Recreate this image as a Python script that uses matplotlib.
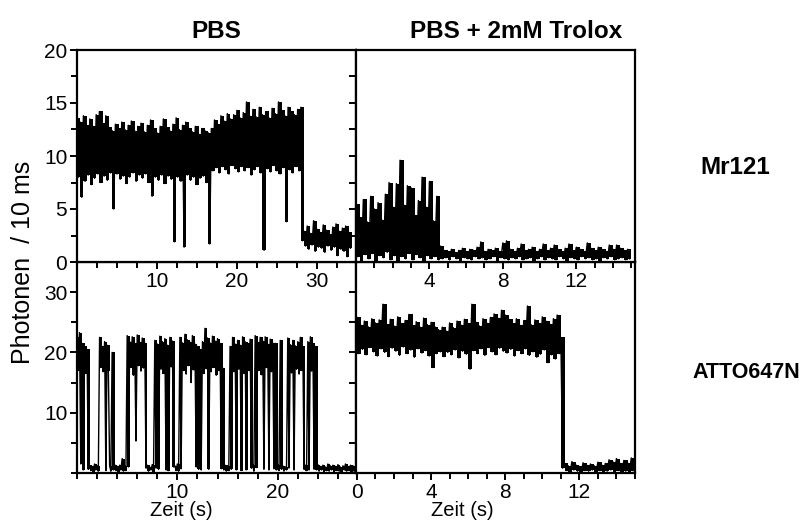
import numpy as np
import matplotlib
matplotlib.use("Agg")
import matplotlib.pyplot as plt
from matplotlib.ticker import MultipleLocator, FixedLocator

plt.rcParams['font.family'] = ['Liberation Sans', 'DejaVu Sans']

# -------------------------
# Traces, read off the picture as upper / lower envelope per time bin
# -------------------------

# Mr121 in PBS, 0.4 s bins
pbs_mr_dt = 0.4
pbs_mr_hi = [13.6, 13.2, 13.8, 12.9, 13.5, 12.8, 13.9, 14.2, 13.1, 13.8, 12.7, 12.4,
             13.0, 12.6, 13.2, 12.5, 12.9, 13.3, 12.4, 12.8, 13.1, 12.3, 12.9, 13.4,
             12.6, 12.2, 12.8, 13.5, 12.7, 12.4, 13.0, 13.6, 12.5, 12.9, 13.2, 12.6,
             12.3, 12.8, 12.1, 12.6, 12.4, 12.2,
             12.6, 13.4, 13.0, 13.8, 13.3, 14.0, 13.5, 13.9, 14.3, 13.6, 14.1, 15.1,
             13.8, 14.4, 13.7, 14.6, 13.9, 14.2, 13.6, 14.5, 14.0, 15.1, 14.3, 13.8,
             14.6, 14.2, 13.9, 14.4, 14.6,
             2.9, 3.4, 2.7, 3.9, 3.1, 2.8, 3.5, 3.0, 2.6, 3.3, 3.6, 2.9, 3.2, 3.4, 2.8]
pbs_mr_lo = [8.0, 6.1, 7.6, 8.2, 7.3, 7.9, 8.3, 7.5, 8.1, 7.7, 8.4, 5.0,
             8.3, 7.8, 8.1, 7.4, 8.0, 8.4, 7.6, 8.2, 7.9, 8.3, 7.5, 6.2,
             8.0, 7.7, 8.2, 7.4, 8.1, 7.8, 1.9, 8.0, 7.6, 1.4, 8.2, 7.7,
             8.0, 7.3, 7.9, 8.1, 7.5, 1.7,
             8.6, 8.9, 8.4, 9.0, 8.7, 8.3, 9.1, 8.8, 8.5, 9.0, 8.6, 8.9,
             8.2, 8.7, 9.0, 8.4, 1.1, 8.8, 8.5, 9.1, 8.6, 8.3, 8.9, 3.8,
             8.7, 8.4, 9.0, 8.6, 2.0,
             1.5, 1.2, 1.6, 1.0, 1.4, 1.3, 0.9, 1.5, 1.1, 1.4, 0.6, 1.2, 1.0, 0.5, 1.3]

# Mr121 in PBS + Trolox, 0.2 s bins
tro_mr_dt = 0.2
tro_mr_hi = [5.5, 4.2, 5.9, 3.8, 6.2, 5.0, 5.6, 4.0, 6.4, 7.5, 5.2, 7.4,
             9.6, 5.4, 7.2, 7.0, 4.4, 5.8, 8.0, 5.2, 7.6, 3.9, 6.2,
             1.5, 1.1, 1.0, 1.2, 0.9, 1.1, 1.3, 1.0, 1.2, 1.1, 1.4, 1.9,
             1.0, 1.2, 1.1, 1.3, 1.0, 1.8, 2.0, 1.2, 1.0, 1.3, 1.7, 1.1,
             1.2, 1.4, 1.0, 1.2, 1.7, 1.1, 1.3, 1.6, 1.2, 1.0, 1.3, 1.7,
             1.1, 1.4, 1.2, 1.0, 1.8, 1.3, 1.1, 1.4, 1.2, 1.0, 1.6, 1.2,
             1.6, 1.3, 1.1, 1.2]
tro_mr_lo = [0.5, 0.0, 0.7, 0.3, 0.8, 0.1, 0.6, 0.4, 0.9, 0.2, 0.6, 0.0,
             0.5, 0.3, 0.8, 0.2, 0.7, 0.4, 0.1, 0.6, 0.3, 0.5, 0.2,
             0.3, 0.4, 0.2, 0.5, 0.3, 0.1, 0.4, 0.3, 0.2, 0.5, 0.3, 0.4,
             0.2, 0.3, 0.5, 0.1, 0.4, 0.3, 0.2, 0.4, 0.3, 0.5, 0.2, 0.3,
             0.4, 0.1, 0.3, 0.5, 0.2, 0.4, 0.3, 0.2, 0.5, 0.3, 0.1, 0.4,
             0.3, 0.2, 0.5, 0.3, 0.4, 0.2, 0.3, 0.1, 0.4, 0.3, 0.5, 0.2,
             0.3, 0.4, 0.2, 0.3]

# ATTO647N in PBS, 0.25 s bins (blinking)
pbs_atto_dt = 0.25
pbs_atto_hi = [22.5, 23.3, 21.5, 21.0, 20.5,
               1.3, 1.1, 1.5, 1.2,
               22.5, 21.0, 21.8, 21.2,
               1.2, 20.0,
               1.4, 1.1, 1.3, 2.4, 1.2,
               22.8, 21.8, 22.6, 21.5, 22.9, 21.7, 22.4, 21.6,
               1.3, 1.0, 1.4,
               22.0, 21.4, 22.7, 21.8, 22.3, 21.2, 22.5, 21.9,
               1.2, 1.5,
               22.5, 21.6, 23.0, 22.1, 21.7, 22.8, 21.4,
               21.0, 20.5,
               21.8, 24.0, 22.4, 21.6, 22.7, 21.9, 22.3, 21.5,
               17.5,
               1.3, 1.1,
               21.0, 22.5, 21.4, 22.0, 21.2, 22.6, 21.8, 21.5, 22.2,
               1.4,
               22.8, 21.7, 22.5, 21.9, 22.6, 21.4, 22.2, 21.6,
               21.5, 1.4, 22.0,
               1.2, 1.0,
               22.4, 21.3, 22.0, 21.1, 21.8, 22.5, 21.0,
               1.3,
               21.8, 22.6, 21.5,
               21.0,
               1.4, 1.1, 1.3, 1.0, 1.5, 1.2, 1.3, 1.1, 1.4, 1.0, 1.2, 1.5, 1.1, 1.3, 1.2]
pbs_atto_lo = [17.0, 1.5, 0.5, 16.5, 0.6,
               0.4, 0.2, 0.5, 0.3,
               17.5, 16.8, 0.4, 17.0,
               0.3, 0.5,
               0.4, 0.2, 0.5, 0.3, 0.4,
               1.0, 17.5, 16.2, 5.3, 17.8, 16.9, 17.4, 0.8,
               0.3, 0.5, 0.2,
               0.8, 0.6, 17.2, 16.5, 0.5, 0.4, 17.6, 1.0,
               0.4, 0.3,
               0.7, 17.0, 16.4, 17.8, 15.0, 17.1, 1.0,
               0.6, 0.5,
               16.5, 17.3, 0.6, 16.8, 17.5, 16.2, 17.0, 0.7,
               0.5,
               0.3, 0.4,
               0.6, 16.8, 0.5, 17.2, 0.4, 16.5, 0.5, 17.0, 0.8,
               0.3,
               0.9, 17.0, 16.3, 0.6, 17.5, 0.5, 16.8, 0.7,
               0.5, 0.4, 0.6,
               0.3, 0.5,
               0.8, 16.6, 0.5, 17.2, 16.4, 17.0, 0.6,
               0.4,
               0.5, 16.9, 0.6,
               0.5,
               0.3, 0.5, 0.2, 0.4, 0.3, 0.5, 0.1, 0.4, 0.3, 0.2, 0.5, 0.3, 0.4, 0.2, 0.3]

# ATTO647N in PBS + Trolox, 0.2 s bins
tro_atto_dt = 0.2
tro_atto_hi = [25.8, 24.6, 25.2, 24.3, 25.6, 24.9, 25.4, 28.0, 24.7, 25.5, 24.4,
               25.9, 24.8, 25.3, 26.3, 24.5, 25.1, 24.2, 25.7, 24.6, 25.0, 24.3,
               23.8, 24.2, 23.6, 24.9, 24.1, 25.2, 24.6, 25.5, 24.8, 28.0, 25.1,
               24.4, 25.6, 24.9, 25.8, 26.4, 25.7, 27.0, 26.2, 25.5, 24.8, 25.6,
               24.5, 25.3, 27.7, 24.6, 25.4, 24.8, 25.9, 25.2, 24.7, 25.6, 26.2,
               22.5,
               1.6, 1.2, 1.9, 1.4, 1.1, 1.7, 1.3, 1.5, 1.2, 1.8, 1.4, 1.6, 2.2,
               1.9, 2.4, 1.6, 2.1, 1.7, 2.5]
tro_atto_lo = [19.8, 20.5, 19.6, 20.8, 20.1, 19.4, 20.6, 20.0, 19.3, 20.7, 20.2,
               19.5, 20.9, 19.8, 20.4, 19.2, 20.6, 19.9, 20.3, 19.4, 17.5, 19.8,
               20.1, 19.3, 20.0, 19.6, 20.4, 19.1, 20.2, 19.7, 17.2, 20.3, 19.8,
               20.6, 19.5, 20.8, 20.1, 19.6, 20.7, 20.2, 19.9, 20.5, 19.4, 20.3,
               19.8, 20.6, 19.5, 20.1, 19.2, 19.7, 20.4, 18.3, 19.6, 18.9, 19.8,
               0.8,
               0.4, 0.2, 0.5, 0.3, 0.1, 0.4, 0.3, 0.5, 0.2, 0.4, 0.1, 0.3, 0.5,
               0.2, 0.4, 0.1, 0.3, 0.2, 0.4]

titles = ["PBS", "PBS + 2mM Trolox"]
dyes = ["Mr121", "ATTO647N"]


def draw_trace(ax, dt, hi, lo):
    hi = np.asarray(hi)
    lo = np.asarray(lo)
    t0 = np.arange(len(hi)) * dt
    # dense core of the trace
    edges = np.append(t0, t0[-1] + dt)
    ax.fill_between(edges, np.append(lo, lo[-1]), np.append(hi, hi[-1]),
                    step='post', color='black', lw=0)
    # each bin as a stroke from top to bottom, gives the spiky edge
    x = np.column_stack([t0, t0 + dt / 2]).ravel()
    y = np.column_stack([hi, lo]).ravel()
    ax.plot(x, y, color='black', lw=1.0)


def style(ax):
    for s in ax.spines.values():
        s.set_linewidth(1.6)
    ax.tick_params(which='both', direction='out', width=1.4, labelsize=15, pad=2)
    ax.tick_params(which='major', length=5)
    ax.tick_params(which='minor', length=4)


fig = plt.figure(figsize=(8.08, 5.24), dpi=100)

x0, xm, x1 = 77 / 808, 356 / 808, 635 / 808
y0, ym, y1 = 1 - 473 / 524, 1 - 262 / 524, 1 - 50 / 524
w = xm - x0

# bottom row first, so the tick labels of the top row stay on top
ax_bl = fig.add_axes([x0, y0, w, ym - y0])
ax_br = fig.add_axes([xm, y0, x1 - xm, ym - y0])
ax_tl = fig.add_axes([x0, ym, w, y1 - ym])
ax_tr = fig.add_axes([xm, ym, x1 - xm, y1 - ym])

for ax, (dt, hi, lo) in [(ax_tl, (pbs_mr_dt, pbs_mr_hi, pbs_mr_lo)),
                         (ax_tr, (tro_mr_dt, tro_mr_hi, tro_mr_lo)),
                         (ax_bl, (pbs_atto_dt, pbs_atto_hi, pbs_atto_lo)),
                         (ax_br, (tro_atto_dt, tro_atto_hi, tro_atto_lo))]:
    draw_trace(ax, dt, hi, lo)
    style(ax)

# top left
ax_tl.set_xlim(0, 34.9)
ax_tl.set_ylim(0, 20)
ax_tl.xaxis.set_major_locator(FixedLocator([10, 20, 30]))
ax_tl.xaxis.set_minor_locator(MultipleLocator(2.5))
ax_tl.yaxis.set_major_locator(MultipleLocator(5))
ax_tl.yaxis.set_minor_locator(MultipleLocator(2.5))

# top right
ax_tr.set_xlim(0, 15.2)
ax_tr.set_ylim(0, 20)
ax_tr.xaxis.set_major_locator(FixedLocator([4, 8, 12]))
ax_tr.xaxis.set_minor_locator(MultipleLocator(1))
ax_tr.yaxis.set_major_locator(MultipleLocator(2.5))
ax_tr.set_yticklabels([])

# bottom left
ax_bl.set_xlim(0, 27.8)
ax_bl.set_ylim(0, 35)
ax_bl.xaxis.set_major_locator(FixedLocator([10, 20]))
ax_bl.xaxis.set_minor_locator(MultipleLocator(2))
ax_bl.yaxis.set_major_locator(FixedLocator([10, 20, 30]))
ax_bl.yaxis.set_minor_locator(MultipleLocator(5))

# bottom right
ax_br.set_xlim(-0.05, 15.0)
ax_br.set_ylim(0, 35)
ax_br.xaxis.set_major_locator(FixedLocator([0, 4, 8, 12]))
ax_br.xaxis.set_minor_locator(MultipleLocator(1))
ax_br.yaxis.set_major_locator(MultipleLocator(5))
ax_br.set_yticklabels([])

fig.text(181 / 808, 1 - 510 / 524, "Zeit (s)", fontsize=14.5, ha='center', va='center')
fig.text(462 / 808, 1 - 510 / 524, "Zeit (s)", fontsize=14.5, ha='center', va='center')

fig.text(216 / 808, 1 - 32 / 524, titles[0], fontsize=17.5, fontweight='bold',
         ha='center', va='center')
fig.text(516 / 808, 1 - 32 / 524, titles[1], fontsize=17.5, fontweight='bold',
         ha='center', va='center')
fig.text(735 / 808, 1 - 167 / 524, dyes[0], fontsize=17.5, fontweight='bold',
         ha='center', va='center')
fig.text(746 / 808, 1 - 372 / 524, dyes[1], fontsize=15.5, fontweight='bold',
         ha='center', va='center')
fig.text(23 / 808, 1 - 262 / 524, "Photonen  / 10 ms", fontsize=18, rotation=90,
         ha='center', va='center')

fig.savefig("out.png", dpi=100)
